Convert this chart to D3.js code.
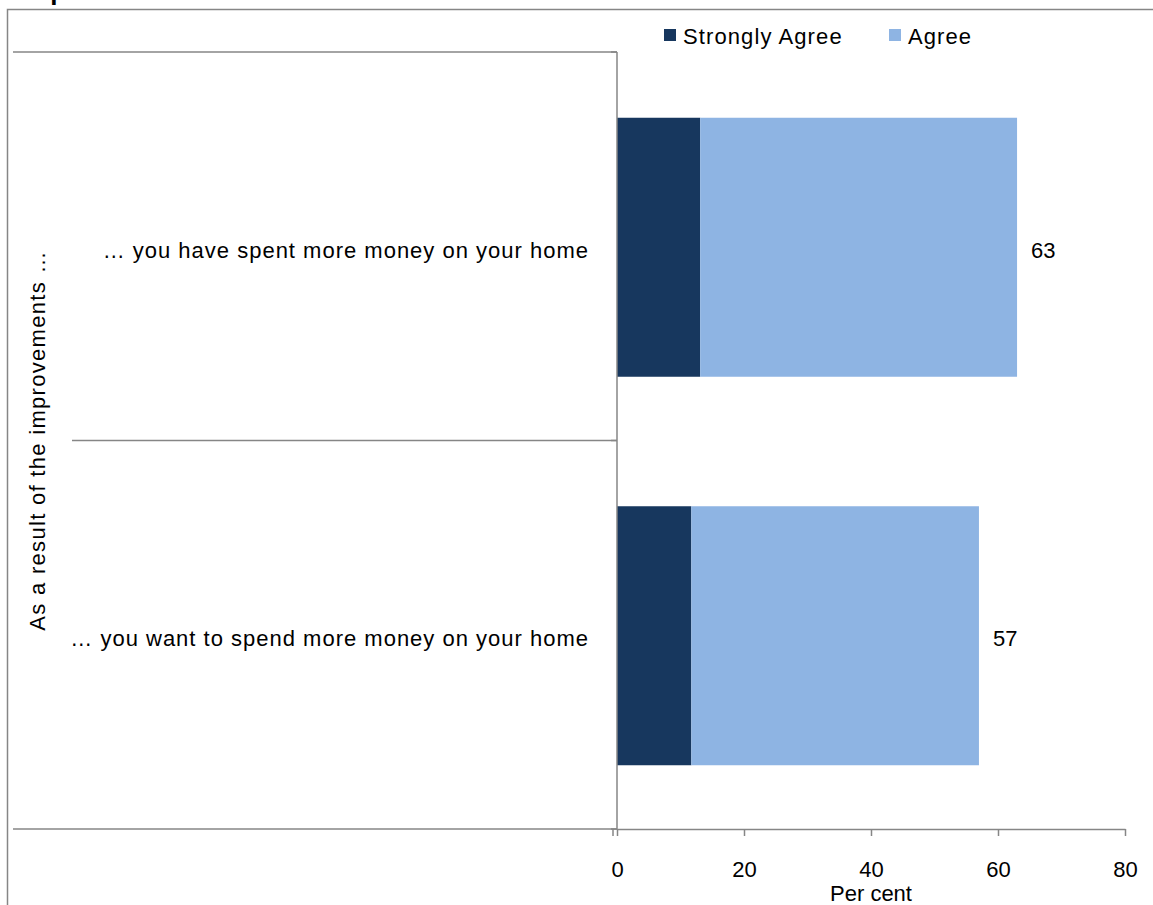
<!DOCTYPE html>
<html>
<head>
<meta charset="utf-8">
<script src="https://cdn.jsdelivr.net/npm/d3@7"></script>
<style>
  html, body { margin: 0; padding: 0; background: #fff; }
  svg { display: block; font-family: "Liberation Sans", Arial, sans-serif; }
</style>
</head>
<body>
<svg id="chart" width="1153" height="905"></svg>
<script>
// Survey statements (category axis, top to bottom)
const categories = [
  "\u2026 you have spent more money on your home",
  "\u2026 you want to spend more money on your home"
];
const seriesNames = ["Strongly Agree", "Agree"];
const stronglyAgree = [13.1, 11.7];
const agree = [49.9, 45.3];
const totals = [63, 57];
const xTicks = [0, 20, 40, 60, 80];
const groupTitle = "As a result of the improvements \u2026";
const xTitle = "Per cent";
const chartTitle = "Improvements home";

const colors = ["#17375E", "#8EB4E3"];
const axisGrey = "#868686";

const svg = d3.select("#chart");
const W = 1153, H = 905;
const plot = { left: 617, right: 1125, top: 52, bottom: 829 };

const x = d3.scaleLinear().domain([0, 80]).range([plot.left, plot.right]);
const y = d3.scaleBand().domain(categories).range([plot.top, plot.bottom])
  .paddingInner(1 / 3).paddingOuter(1 / 6);
const yGroup = d3.scaleBand().domain(categories).range([plot.top, plot.bottom]);
const yMid = c => y(c) + y.bandwidth() / 2 + 4;

// Title, mostly above the top edge of the page
svg.append("text")
  .attr("x", 20).attr("y", 0)
  .attr("font-size", 26).attr("font-weight", "bold")
  .attr("fill", "#000")
  .text(chartTitle);

// Chart area border
svg.append("path")
  .attr("d", `M7.5,${H + 5} V9.5 H${W + 5}`)
  .attr("fill", "none").attr("stroke", axisGrey).attr("stroke-width", 1.5);

// Stacked bars
const stacked = categories.map((c, i) => {
  const vals = [stronglyAgree[i], agree[i]];
  let acc = 0;
  return vals.map((v, k) => { const s = { cat: c, k, x0: acc, x1: acc + v }; acc += v; return s; });
}).flat();

svg.append("g").selectAll("rect").data(stacked).join("rect")
  .attr("x", d => x(d.x0))
  .attr("y", d => y(d.cat) + 1)
  .attr("width", d => x(d.x1) - x(d.x0))
  .attr("height", y.bandwidth())
  .attr("fill", d => colors[d.k]);

// Total labels
svg.append("g").selectAll("text").data(categories).join("text")
  .attr("x", (c, i) => x(stronglyAgree[i] + agree[i]) + 14)
  .attr("y", yMid)
  .attr("dy", "0.35em")
  .attr("font-size", 22).attr("fill", "#000")
  .text((c, i) => totals[i]);

// Category axis: vertical line, group separators and labels
const catAxis = svg.append("g").attr("stroke", axisGrey).attr("stroke-width", 1.5);
catAxis.append("line")
  .attr("x1", plot.left).attr("x2", plot.left)
  .attr("y1", plot.top).attr("y2", plot.bottom);
const bounds = [plot.top].concat(categories.map(c => yGroup(c) + yGroup.bandwidth()));
catAxis.selectAll("line.sep").data(bounds).join("line").attr("class", "sep")
  .attr("x1", (b, i) => (i === 0 || i === bounds.length - 1) ? 13 : 72)
  .attr("x2", plot.left)
  .attr("y1", b => b).attr("y2", b => b);
// small tick marks at band boundaries
catAxis.selectAll("line.tk").data(bounds).join("line").attr("class", "tk")
  .attr("x1", plot.left - 6).attr("x2", plot.left)
  .attr("y1", b => b).attr("y2", b => b);

svg.append("g").selectAll("text").data(categories).join("text")
  .attr("x", 589)
  .attr("y", yMid)
  .attr("dy", "0.35em")
  .attr("text-anchor", "end")
  .attr("font-size", 22).attr("letter-spacing", 1).attr("fill", "#000")
  .text(c => c);

svg.append("text")
  .attr("transform", `translate(45,${(plot.top + plot.bottom) / 2}) rotate(-90)`)
  .attr("text-anchor", "middle")
  .attr("font-size", 22).attr("letter-spacing", 1.3).attr("fill", "#000")
  .text(groupTitle);

// Value axis
const xAxis = svg.append("g")
  .attr("transform", `translate(0,${plot.bottom})`)
  .call(d3.axisBottom(x).tickValues(xTicks).tickSize(7).tickSizeOuter(0).tickPadding(25));
xAxis.select(".domain").attr("stroke", axisGrey).attr("stroke-width", 1.5);
xAxis.selectAll(".tick line").attr("stroke", axisGrey).attr("stroke-width", 1.5);
xAxis.selectAll(".tick text")
  .attr("font-size", 22).attr("fill", "#000")
  .attr("font-family", "Liberation Sans, Arial, sans-serif");
// tick below the category axis line at the origin
svg.append("line")
  .attr("x1", plot.left - 4).attr("x2", plot.left - 4)
  .attr("y1", plot.bottom).attr("y2", plot.bottom + 7)
  .attr("stroke", axisGrey).attr("stroke-width", 1.5);

svg.append("text")
  .attr("x", x(40)).attr("y", 901)
  .attr("text-anchor", "middle")
  .attr("font-size", 22).attr("fill", "#000")
  .text(xTitle);

// Legend
const legend = svg.append("g");
const legendX = [664, 889];
seriesNames.forEach((name, i) => {
  legend.append("rect")
    .attr("x", legendX[i]).attr("y", 29)
    .attr("width", 12).attr("height", 12)
    .attr("fill", colors[i]);
  legend.append("text")
    .attr("x", legendX[i] + 19).attr("y", 36)
    .attr("dy", "0.35em")
    .attr("font-size", 22).attr("letter-spacing", 1.1).attr("fill", "#000")
    .text(name);
});
</script>
</body>
</html>
